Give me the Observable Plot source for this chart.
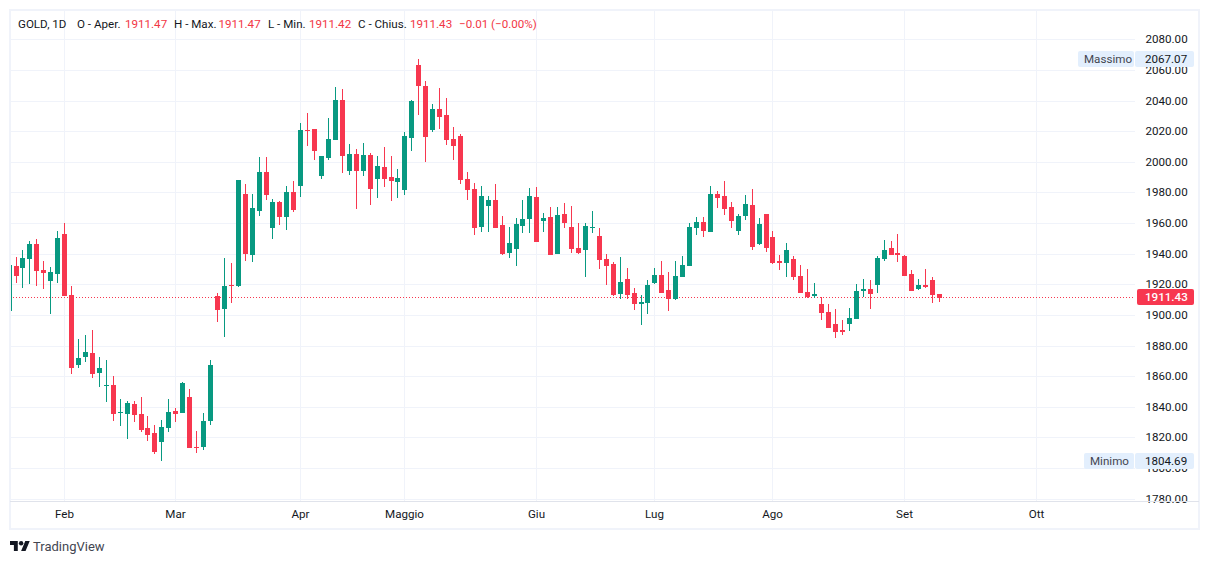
<!DOCTYPE html>
<html lang="it">
<head>
<meta charset="utf-8">
<script src="https://cdn.jsdelivr.net/npm/d3@7"></script>
<script src="https://cdn.jsdelivr.net/npm/@observablehq/plot@0.6"></script>
<style>
  html, body { margin: 0; padding: 0; background: #fff; overflow: hidden; }
  body { font-family: Roboto, sans-serif; color: #131722; }
  #stage { position: relative; width: 1209px; height: 564px; }
  #stage svg.plot { position: absolute; left: 0; top: 0; }
  .abs { position: absolute; white-space: nowrap; }
  .hdr { top: 17px; font-size: 11.6px; line-height: 15px; }
  .val { color: #f23645; }
  .tag { height: 16px; line-height: 16px; font-size: 11.6px; background: #e3effd; border-radius: 2px; box-sizing: border-box; }
</style>
</head>
<body>
<div id="stage"></div>
<script>
// Bar index is trading days from the first February session.
const firstBar = -8;
const opens = [
  1902.8,1931.9,1930.6,1936.5,1946.3,1929.3,1922.2,1926.7,
  1952.8,1913.0,1867.3,1872.5,1875.1,1862.1,1853.6,1854.2,1836.0,1835.3,1841.8,1835.3,1826.2,1822.9,1817.0,1826.2,
  1837.3,1836.0,1846.4,1813.8,1813.8,1830.7,1912.4,1903.9,1919.6,1918.9,1979.0,1939.1,1967.9,1993.3,1956.8,1973.7,1964.0,1980.3,
  1984.2,2020.8,2021.4,1990.7,2002.5,2014.2,2040.3,1994.0,2005.1,1994.0,2004.4,1988.8,1996.6,1990.1,1986.8,
  1981.6,2015.5,2063.2,2049.5,2020.8,2034.5,2030.6,2014.9,2016.8,1988.8,1982.2,1957.4,1971.1,1975.0,1958.7,1940.4,1943.1,1958.1,1962.6,
  1977.0,1961.3,1963.9,1939.8,1965.9,1957.4,1943.7,1942.4,1956.8,1951.5,1936.5,1933.3,1913.7,1923.5,1914.3,1907.1,1907.8,
  1920.9,1926.1,1916.3,1910.4,1924.8,1931.9,1956.8,1960.7,1954.1,1979.0,1977.7,1970.5,1954.8,1964.6,1971.8,1946.3,1965.9,
  1950.9,1935.2,1933.9,1936.5,1925.4,1915.0,1912.4,1907.1,1901.9,1894.1,1890.2,1894.1,1897.3,1915.6,1916.9,1919.5,1936.5,1943.7,1940.4,
  1938.5,1926.7,1916.9,1919.5,1922.8,1913.7,1911.47
];
const highs = [
  1932.6,1937.8,1942.4,1948.3,1949.6,1935.2,1931.3,1954.8,
  1960.0,1918.9,1884.3,1886.9,1890.2,1872.5,1870.6,1860.1,1845.1,1843.8,1843.8,1846.4,1834.0,1828.1,1831.4,1845.1,
  1839.2,1856.2,1851.6,1824.2,1836.0,1870.6,1914.3,1937.2,1933.9,1988.1,1985.5,1979.0,2003.1,2003.1,1975.7,1974.4,1984.2,1987.5,
  2025.3,2031.9,2021.4,2003.8,2028.6,2048.8,2047.5,2011.6,2008.3,2012.3,2005.7,2003.8,2009.7,2003.8,1995.3,
  2019.5,2040.3,2067.1,2052.8,2037.7,2048.2,2041.6,2022.7,2018.1,1993.3,1986.1,1984.2,1977.7,1985.5,1964.6,1957.4,1963.3,1975.0,1982.9,
  1983.5,1966.6,1970.5,1970.5,1973.1,1971.1,1960.0,1960.0,1967.9,1956.8,1939.8,1934.6,1937.8,1930.6,1917.6,1913.0,1922.8,
  1930.6,1935.2,1928.0,1935.2,1938.5,1960.0,1963.9,1963.9,1984.2,1980.9,1987.5,1973.7,1965.9,1978.3,1982.2,1963.3,1965.9,
  1954.8,1939.1,1947.0,1938.5,1932.6,1930.0,1920.9,1911.7,1907.1,1903.9,1896.7,1904.5,1920.2,1923.5,1922.8,1938.5,1948.9,1948.3,1952.8,
  1939.1,1929.3,1923.5,1930.0,1924.8,1913.7,1911.47
];
const lows = [
  1902.8,1920.8,1917.6,1920.2,1918.9,1916.9,1900.6,1920.8,
  1912.4,1861.4,1865.3,1869.3,1858.8,1852.9,1843.1,1830.7,1827.5,1819.0,1830.1,1823.6,1817.7,1809.2,1804.69,1823.6,
  1830.1,1836.0,1813.1,1809.8,1811.8,1828.1,1895.4,1885.6,1907.8,1918.2,1935.2,1934.6,1964.6,1975.1,1949.6,1958.7,1955.5,1967.2,
  1977.0,2010.3,2001.2,1988.8,2001.2,2014.2,1992.7,1991.4,1969.2,1990.7,1971.8,1976.4,1983.5,1974.4,1976.4,
  1978.3,2007.0,2030.6,1999.9,2019.5,2021.4,2011.0,2001.2,1985.5,1975.1,1952.2,1954.1,1954.1,1956.8,1939.1,1937.2,1931.9,1953.5,1953.5,
  1947.6,1954.1,1939.1,1939.8,1956.8,1940.4,1939.8,1924.8,1953.5,1930.0,1919.5,1912.4,1910.4,1910.4,1903.2,1893.4,1900.6,
  1920.2,1914.3,1902.6,1909.8,1924.8,1931.9,1952.2,1950.9,1954.1,1969.8,1965.2,1956.8,1952.2,1962.0,1942.4,1945.7,1941.1,
  1933.3,1929.3,1924.8,1922.8,1914.3,1911.1,1911.1,1896.7,1891.5,1884.9,1886.9,1889.5,1897.3,1911.7,1903.9,1914.3,1935.2,1939.1,1934.6,
  1925.4,1915.6,1916.3,1917.6,1907.8,1908.4,1911.42
];
const closes = [
  1932.6,1925.4,1937.2,1946.3,1928.7,1927.4,1928.0,1950.2,
  1912.4,1865.3,1871.9,1875.8,1861.4,1865.3,1854.2,1835.3,1836.6,1842.5,1834.7,1824.9,1821.6,1810.5,1826.8,1836.6,
  1835.3,1855.6,1813.1,1813.1,1830.7,1867.3,1903.2,1918.9,1918.9,1988.1,1939.8,1969.8,1993.3,1978.3,1973.7,1964.0,1980.3,1968.5,
  2020.8,2020.1,2007.0,2003.8,2014.9,2040.3,2003.8,2005.1,1994.0,2004.4,1982.2,1997.2,1988.8,1987.5,1989.4,
  2016.8,2039.7,2049.5,2016.2,2034.5,2029.2,2014.2,2010.3,1988.1,1981.6,1956.8,1977.7,1975.0,1956.8,1939.8,1947.0,1959.4,1962.6,1977.7,
  1947.6,1963.3,1939.1,1965.2,1960.0,1943.1,1940.4,1958.1,1957.4,1935.9,1931.9,1913.0,1921.5,1913.0,1907.1,1908.4,1919.5,
  1926.1,1914.3,1910.4,1925.4,1932.6,1957.4,1960.7,1954.8,1979.0,1976.4,1969.2,1961.3,1964.6,1972.4,1944.4,1959.4,1943.7,
  1933.9,1933.9,1942.4,1924.8,1914.3,1911.7,1913.7,1901.3,1891.5,1888.9,1888.9,1898.0,1915.6,1916.9,1913.7,1937.2,1942.4,1939.1,1939.1,
  1925.4,1915.6,1919.5,1918.2,1913.0,1911.1,1911.43
];
const priceTicks = [2080,2060,2040,2020,2000,1980,1960,1940,1920,1900,1880,1860,1840,1820,1800,1780];
const monthTicks = [0,16,34,49,68,85,102,121,140];
const monthLabels = ["Feb","Mar","Apr","Maggio","Giu","Lug","Ago","Set","Ott"];
const lastClose = 1911.43;
const highest = 2067.07;
const lowest = 1804.69;
const headerParts = [
  ["GOLD, 1D",18,""],["O - Aper.",77,""],["1911.47",125,"val"],
  ["H - Max.",174,""],["1911.47",218.5,"val"],
  ["L - Min.",268,""],["1911.42",309,"val"],
  ["C - Chius.",358,""],["1911.43",410,"val"],
  ["\u22120.01 (\u22120.00%)",459,"val"]
];

const upColor = "#089981", downColor = "#f7374f", gridColor = "#f0f3fa";
const bars = opens.map((o, k) => ({
  i: firstBar + k, o, h: highs[k], l: lows[k], c: closes[k],
  color: closes[k] >= o ? upColor : downColor
}));

const chart = Plot.plot({
  width: 1209, height: 530,
  marginLeft: 10, marginRight: 74, marginTop: 10, marginBottom: 29,
  style: {background: "transparent", fontFamily: "Roboto, sans-serif", fontSize: "11.6px", color: "#131722", overflow: "visible"},
  x: {domain: [-7.796, 154.2], round: true, axis: null},
  y: {domain: [1778.5, 2099.1], round: true, axis: null},
  color: {type: "identity"},
  marks: [
    Plot.gridX(monthTicks, {stroke: gridColor, strokeOpacity: 1}),
    Plot.gridY(priceTicks, {stroke: gridColor, strokeOpacity: 1}),
    Plot.ruleY([lastClose], {stroke: downColor, strokeDasharray: "1,2"}),
    Plot.ruleX(bars, {x: "i", y1: "l", y2: "h", stroke: "color", strokeWidth: 1, clip: true}),
    Plot.ruleX(bars, {x: "i", y1: "o", y2: "c", stroke: "color", strokeWidth: 5, clip: true}),
    Plot.axisY(priceTicks, {anchor: "right", tickSize: 0, tickPadding: 10, label: null, tickFormat: d3.format(".2f"), fill: "#131722"}),
    Plot.axisX(monthTicks, {anchor: "bottom", tickSize: 0, tickPadding: 8, label: null, tickFormat: d => monthLabels[monthTicks.indexOf(d)], fill: "#131722"})
  ]
});
const stage = document.getElementById("stage");
stage.appendChild(chart);

function add(text, css, cls) {
  const el = document.createElement("div");
  el.className = "abs " + (cls || "");
  el.textContent = text;
  Object.assign(el.style, css);
  stage.appendChild(el);
  return el;
}
// panel frame and time-axis divider
add("", {left: "9px", top: "9px", width: "1191px", height: "521px", border: "2px solid #f0f3fa", boxSizing: "border-box"});
add("", {left: "10px", top: "501px", width: "1189px", height: "1px", background: "#e0e3eb"});
// legend line
headerParts.forEach(([t, x, c]) => add(t, {left: x + "px"}, "hdr " + c));
// price-scale tags
const yOf = v => chart.scale("y").apply(v);
function priceTag(label, value, labelLeft) {
  const top = yOf(value) - 8 + "px";
  add(label, {left: labelLeft + "px", top, width: 1134 - labelLeft + "px", paddingLeft: "6px", color: "#434651"}, "tag");
  add(value.toFixed(2), {left: "1135px", top, width: "59px", paddingLeft: "10px"}, "tag");
}
priceTag("Massimo", highest, 1078);
priceTag("Minimo", lowest, 1084);
add(lastClose.toFixed(2), {left: "1137px", top: yOf(lastClose) - 8 + "px", width: "57px", paddingLeft: "8px", background: downColor, color: "#fff", fontWeight: 500}, "tag");
// footer brand
const logo = document.createElementNS("http://www.w3.org/2000/svg", "svg");
logo.setAttribute("viewBox", "0 4 36 18");
logo.setAttribute("width", "20");
logo.setAttribute("height", "10");
logo.style.cssText = "position:absolute;left:10px;top:541px";
logo.innerHTML = '<path fill="#131722" d="M14 22H7V11H0V4h14v18zM28 22h-8l7.5-18h8L28 22z"/><circle fill="#131722" cx="20" cy="8" r="4"/>';
stage.appendChild(logo);
add("TradingView", {left: "33px", top: "539px", fontSize: "13px", lineHeight: "16px", color: "#434651"});
</script>
</body>
</html>
